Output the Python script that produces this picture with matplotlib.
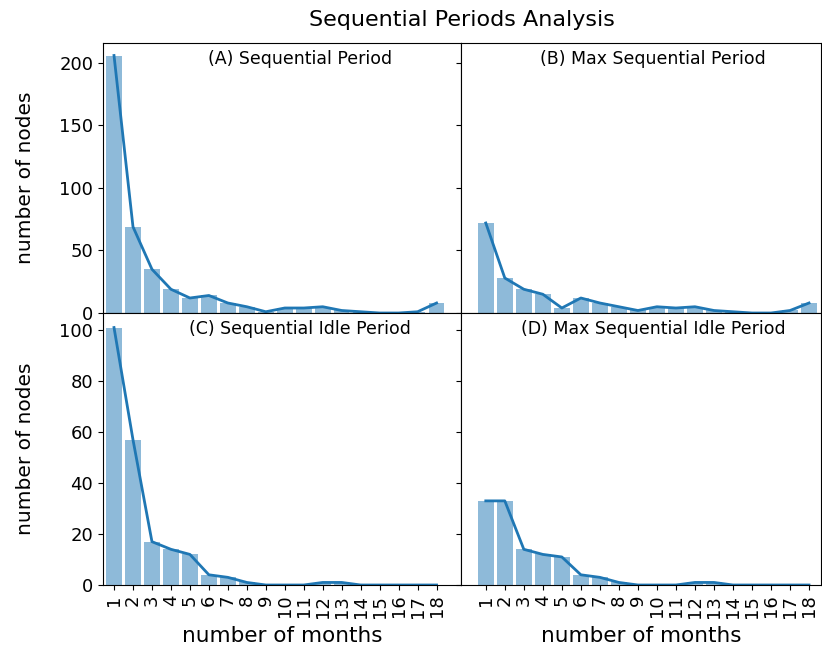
import numpy as np
import matplotlib.pyplot as plt

months = list(range(1, 19))
month_labels = [str(m) for m in months]

seq_period = [206, 69, 35, 19, 12, 14, 8, 5, 1, 4, 4, 5, 2, 1, 0, 0, 1, 8]
max_seq_period = [72, 28, 19, 15, 4, 12, 8, 5, 2, 5, 4, 5, 2, 1, 0, 0, 2, 8]
seq_idle = [101, 57, 17, 14, 12, 4, 3, 1, 0, 0, 0, 1, 1, 0, 0, 0, 0, 0]
max_seq_idle = [33, 33, 14, 12, 11, 4, 3, 1, 0, 0, 0, 1, 1, 0, 0, 0, 0, 0]

titles = ["(A) Sequential Period", "(B) Max Sequential Period",
          "(C) Sequential Idle Period", "(D) Max Sequential Idle Period"]
series = [seq_period, max_seq_period, seq_idle, max_seq_idle]

W, H = 822, 651
fig = plt.figure(figsize=(W / 100, H / 100), dpi=100)

x0, xm, x1 = 103, 460.5, 821
y0, ym, y1 = 43, 313, 585


def box(l, r, t, b):
    return [l / W, 1 - b / H, (r - l) / W, (b - t) / H]


axA = fig.add_axes(box(x0, xm, y0, ym))
axB = fig.add_axes(box(xm, x1, y0, ym), sharey=axA)
axC = fig.add_axes(box(x0, xm, ym, y1))
axD = fig.add_axes(box(xm, x1, ym, y1), sharey=axC)
axes = [axA, axB, axC, axD]

for i, (ax, vals, title) in enumerate(zip(axes, series, titles)):
    ax.bar(months, vals, width=0.82, color="C0", alpha=0.5)
    ax.plot(months, vals, color="C0", linewidth=2)
    left = i % 2 == 0
    if left:
        ax.set_xlim(0.42, 19.26)
        ax.set_ylabel("number of nodes", fontsize=14.5)
        ax.yaxis.set_label_coords(-0.19, 0.5)
    else:
        ax.set_xlim(-0.33, 18.63)
        plt.setp(ax.get_yticklabels(), visible=False)
    ax.set_xticks(months)
    if i >= 2:
        ax.set_xticklabels(month_labels, rotation=90, fontsize=13)
        ax.set_xlabel("number of months", fontsize=15.5)
        ax.xaxis.set_label_coords(0.5, -0.15)
    else:
        ax.set_xticklabels([])
        ax.tick_params(axis="x", length=0)
    ax.tick_params(axis="y", labelsize=13)
    ax.text(0.55 if left else 0.535, 0.975, title, transform=ax.transAxes,
            ha="center", va="top", fontsize=12.5)

axA.set_ylim(0, 216)
axA.set_yticks([0, 50, 100, 150, 200])
axC.set_ylim(0, 106.7)
axC.set_yticks([0, 20, 40, 60, 80, 100])

fig.suptitle("Sequential Periods Analysis", x=462 / W, y=1 - 20 / H,
             va="center", fontsize=16)

fig.savefig("out.png", dpi=100)
